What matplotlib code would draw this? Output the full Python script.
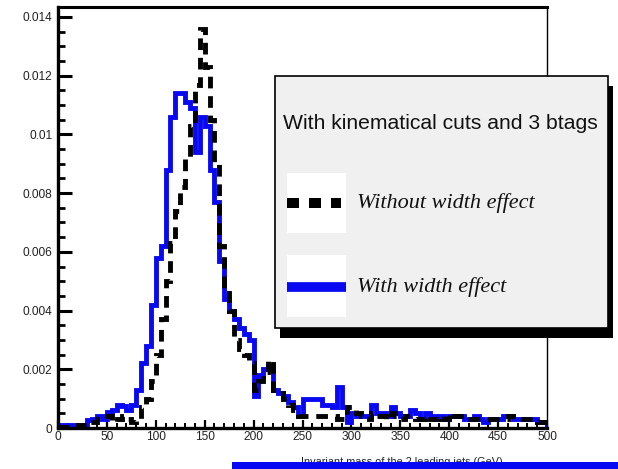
import numpy as np
import matplotlib
matplotlib.use("Agg")
import matplotlib.pyplot as plt
from matplotlib.patches import Rectangle
from matplotlib.lines import Line2D

# ---- data: 100 bins of 5 GeV between 0 and 500 GeV ----
bin_edges = np.arange(0, 505, 5)

with_width = [
    0.0001, 0.0001, 0.0001, 0.0001, 0.0001, 0.0001, 0.00028, 0.00032, 0.0004, 0.0003,
    0.00055, 0.0006, 0.0008, 0.00075, 0.0006, 0.0008, 0.0013, 0.0022, 0.0028, 0.0042,
    0.0058, 0.0062, 0.0088, 0.0106, 0.0114, 0.0114, 0.0111, 0.0109, 0.0094, 0.0106,
    0.0103, 0.0088, 0.0077, 0.0057, 0.0044, 0.0040, 0.0037, 0.0034, 0.0032, 0.0030,
    0.0011, 0.0018, 0.0020, 0.0021, 0.0013, 0.0012, 0.0011, 0.0009, 0.0007, 0.0004,
    0.0010, 0.0010, 0.0010, 0.0010, 0.0008, 0.0008, 0.0007, 0.0014, 0.0007, 0.0002,
    0.0005, 0.0004, 0.0004, 0.0004, 0.0008, 0.0005, 0.0005, 0.0004, 0.0007, 0.0005,
    0.0004, 0.0004, 0.0006, 0.0005, 0.0003, 0.0005, 0.0004, 0.0003, 0.0004, 0.0003,
    0.0004, 0.0004, 0.0004, 0.0003, 0.0003, 0.0004, 0.0003, 0.0002, 0.0003, 0.0003,
    0.0003, 0.0004, 0.0004, 0.0003, 0.0003, 0.0003, 0.0003, 0.0003, 0.0002, 0.0002,
]

without_width = [
    0.00005, 0.00005, 0.00005, 0.00005, 0.0001, 0.0001, 0.0002, 0.0002, 0.0004, 0.0004,
    0.0004, 0.0002, 0.0003, 0.0004, 0.0003, 0.0002, 0.0003, 0.0007, 0.0010, 0.0016,
    0.0025, 0.0037, 0.0050, 0.0063, 0.0074, 0.0082, 0.0092, 0.0103, 0.0117, 0.0136,
    0.0123, 0.0105, 0.0090, 0.0062, 0.0047, 0.0040, 0.0030, 0.0027, 0.0025, 0.0022,
    0.0013, 0.0016, 0.0019, 0.0023, 0.0013, 0.0012, 0.0010, 0.0008, 0.0006, 0.0004,
    0.0004, 0.0004, 0.0004, 0.0004, 0.0004, 0.0004, 0.0004, 0.0003, 0.0003, 0.0007,
    0.0007, 0.0005, 0.0004, 0.0003, 0.0005, 0.0004, 0.0004, 0.0003, 0.0005, 0.0004,
    0.0003, 0.0004, 0.0004, 0.0003, 0.0003, 0.0004, 0.0003, 0.0003, 0.0004, 0.0003,
    0.0005, 0.0004, 0.0004, 0.0003, 0.0003, 0.0003, 0.0003, 0.0003, 0.0003, 0.0003,
    0.0003, 0.0003, 0.0004, 0.0003, 0.0003, 0.0003, 0.0003, 0.0003, 0.0002, 0.0002,
]

x_ticks = [0, 50, 100, 150, 200, 250, 300, 350, 400, 450, 500]
x_tick_labels = ["0", "50", "100", "150", "200", "250", "300", "350", "400", "450", "500"]
y_ticks = [0, 0.002, 0.004, 0.006, 0.008, 0.010, 0.012, 0.014]
y_tick_labels = ["0", "0.002", "0.004", "0.006", "0.008", "0.01", "0.012", "0.014"]

legend_title = "With kinematical cuts and 3 btags"
label_without = "Without width effect"
label_with = "With width effect"
x_title = "Invariant mass of the 2 leading jets (GeV)"

sans = ["Liberation Sans", "DejaVu Sans"]
serif = ["Liberation Serif", "DejaVu Serif"]

W, H = 618, 469
fig = plt.figure(figsize=(W / 100, H / 100), dpi=100, facecolor="white")


def fx(px):
    return px / W


def fy(py):
    return 1 - py / H


ax = fig.add_axes([fx(58), fy(428), fx(547) - fx(58), fy(7) - fy(428)])
ax.set_facecolor("white")

blue = "#0808f2"
ax.stairs(with_width, bin_edges, color=blue, linewidth=3.5, baseline=0, zorder=2)
ax.stairs(without_width, bin_edges, color="black", linewidth=3.5,
          linestyle=(0, (2.4, 1.6)), baseline=0, zorder=3)

ax.set_xlim(0, 500)
ax.set_ylim(0, 0.01434)

ax.set_xticks(x_ticks)
ax.set_xticklabels(x_tick_labels, family=sans, fontsize=8.6, color="#222222")
ax.set_xticks(np.arange(0, 501, 10), minor=True)
ax.set_yticks(y_ticks)
ax.set_yticklabels(y_tick_labels, family=sans, fontsize=8.6, color="#222222")
ax.set_yticks(np.arange(0, 0.0141, 0.0005), minor=True)

ax.tick_params(axis="y", which="major", direction="in", length=10, width=2.2, pad=4)
ax.tick_params(axis="y", which="minor", direction="in", length=5, width=2.0)
ax.tick_params(axis="x", which="major", direction="in", length=6, width=1.6, pad=2)
ax.tick_params(axis="x", which="minor", direction="in", length=3.5, width=1.4)
ax.tick_params(top=False, right=False, which="both")

for side, lw in (("left", 2.4), ("bottom", 2.4), ("top", 2.2), ("right", 1.0)):
    ax.spines[side].set_linewidth(lw)
    ax.spines[side].set_color("black")

# x-axis title, right-aligned below the axis
fig.text(fx(503), fy(465), x_title, family=sans, fontsize=7.8,
         ha="right", va="baseline", color="#222222")

# ---- legend box with drop shadow ----
bx0, by0, bx1, by1 = 275, 76, 608, 328
fig.patches.append(Rectangle((fx(bx0 + 5), fy(by1 + 10)), fx(bx1 - bx0), fy(by0) - fy(by1),
                             transform=fig.transFigure, facecolor="black",
                             edgecolor="none", zorder=5))
fig.patches.append(Rectangle((fx(bx0), fy(by1)), fx(bx1 - bx0), fy(by0) - fy(by1),
                             transform=fig.transFigure, facecolor="#f0f0f0",
                             edgecolor="black", linewidth=1.2, zorder=6))
for (y0, y1) in ((173, 233), (255, 317)):
    fig.patches.append(Rectangle((fx(287), fy(y1)), fx(346 - 287), fy(y0) - fy(y1),
                                 transform=fig.transFigure, facecolor="white",
                                 edgecolor="none", zorder=7))

fig.lines.append(Line2D([fx(287), fx(341)], [fy(203), fy(203)], transform=fig.transFigure,
                        color="black", linewidth=7.2, linestyle=(0, (1.2, 1.0)),
                        dash_capstyle="butt", zorder=8))
fig.lines.append(Line2D([fx(287), fx(346)], [fy(287), fy(287)], transform=fig.transFigure,
                        color=blue, linewidth=7.0, solid_capstyle="butt", zorder=8))

fig.text(fx(283), fy(123), legend_title, family=sans, fontsize=15.2,
         ha="left", va="center", color="#111111", zorder=9)
fig.text(fx(357), fy(203), label_without, family=serif, style="italic",
         fontsize=16, ha="left", va="center", color="#111111", zorder=9)
fig.text(fx(357), fy(287), label_with, family=serif, style="italic",
         fontsize=16, ha="left", va="center", color="#111111", zorder=9)

# blue strip along the bottom edge
fig.patches.append(Rectangle((fx(232), 0), 1 - fx(232), fy(462), transform=fig.transFigure,
                             facecolor=blue, edgecolor="none", zorder=10))

fig.savefig("out.png", dpi=100, facecolor="white")
